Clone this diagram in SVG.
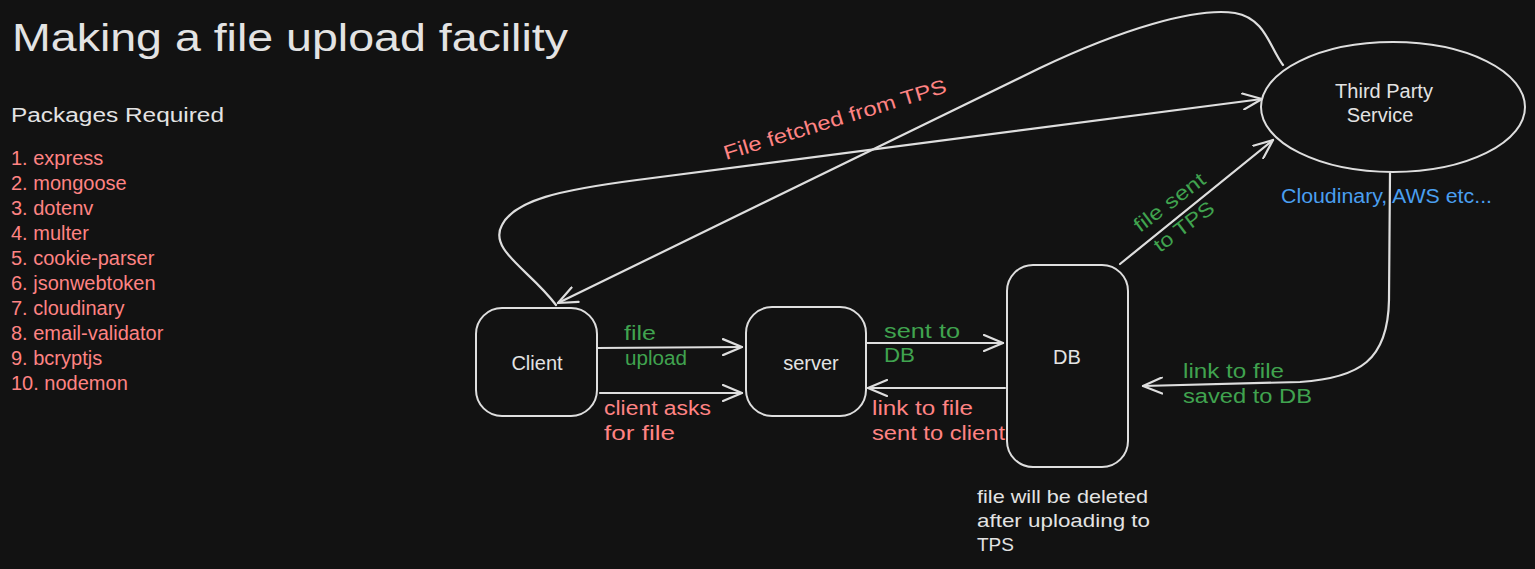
<svg xmlns="http://www.w3.org/2000/svg" width="1535" height="569" viewBox="0 0 1535 569">
<style>
text{font-family:"Liberation Sans","DejaVu Sans",sans-serif;font-size:20px;fill:#e3e3e3}
.r{fill:#ff8383}
.g{fill:#40a34f}
.b{fill:#4a9ff0}
.t{font-size:38px}
.s19{font-size:19px}
.node{fill:#121212;stroke:#dedede;stroke-width:2}
.c{fill:none;stroke:#dedede;stroke-width:2.2;stroke-linecap:round;stroke-linejoin:round}
</style>
<defs>
<marker id="ah" viewBox="0 0 22 18" refX="20" refY="9" markerWidth="22" markerHeight="18" markerUnits="userSpaceOnUse" orient="auto">
<path d="M1,1 L20,9 L1,17" fill="none" stroke="#dedede" stroke-width="2.2" stroke-linecap="round" stroke-linejoin="round"/>
</marker>
</defs>
<rect width="1535" height="569" fill="#121212"/>

<g id="title">
<text class="t" x="12" y="51" textLength="556" lengthAdjust="spacingAndGlyphs">Making a file upload facility</text>
</g>
<g id="packages">
<text x="11" y="122" textLength="213" lengthAdjust="spacingAndGlyphs">Packages Required</text>
<text class="r" x="11" y="165">1. express</text>
<text class="r" x="11" y="190">2. mongoose</text>
<text class="r" x="11" y="215">3. dotenv</text>
<text class="r" x="11" y="240">4. multer</text>
<text class="r" x="11" y="265">5. cookie-parser</text>
<text class="r" x="11" y="290">6. jsonwebtoken</text>
<text class="r" x="11" y="315">7. cloudinary</text>
<text class="r" x="11" y="340">8. email-validator</text>
<text class="r" x="11" y="365">9. bcryptjs</text>
<text class="r" x="11" y="390">10. nodemon</text>
</g>

<g id="connectors">
<path class="c" d="M597,348 L742,347" marker-end="url(#ah)"/>
<path class="c" d="M600,393 L742,393" marker-end="url(#ah)"/>
<path class="c" d="M866,343 L1003,343" marker-end="url(#ah)"/>
<path class="c" d="M1005,388 L868,388" marker-end="url(#ah)"/>
<path class="c" d="M1120,264 L1273,140" marker-end="url(#ah)"/>
<path class="c" d="M1390,173 L1389,300 C1388,360 1360,378 1300,382 L1143,386" marker-end="url(#ah)"/>
<path class="c" d="M556,305 C530,270 488,250 502,225 C515,200 560,190 637,180 L1262,99" marker-end="url(#ah)"/>
<path class="c" d="M1283,65 C1270,48 1265,18 1235,13 C1195,7 1120,30 1040,68 L558,303" marker-end="url(#ah)"/>
<text class="g" x="624" y="340" textLength="32" lengthAdjust="spacingAndGlyphs">file</text>
<text class="g" x="625" y="365" textLength="62" lengthAdjust="spacingAndGlyphs">upload</text>
<text class="r" x="604" y="415" textLength="107" lengthAdjust="spacingAndGlyphs">client asks</text>
<text class="r" x="604" y="440" textLength="71" lengthAdjust="spacingAndGlyphs">for file</text>
<text class="g" x="884" y="338" textLength="76" lengthAdjust="spacingAndGlyphs">sent to</text>
<text class="g" x="884" y="362" textLength="31" lengthAdjust="spacingAndGlyphs">DB</text>
<text class="r" x="872" y="415" textLength="101" lengthAdjust="spacingAndGlyphs">link to file</text>
<text class="r" x="872" y="440" textLength="133" lengthAdjust="spacingAndGlyphs">sent to client</text>
<text class="g" x="1183" y="378" textLength="101" lengthAdjust="spacingAndGlyphs">link to file</text>
<text class="g" x="1183" y="403" textLength="129" lengthAdjust="spacingAndGlyphs">saved to DB</text>
<text class="r" transform="translate(726,160) rotate(-17)" x="0" y="0" textLength="232" lengthAdjust="spacingAndGlyphs">File fetched from TPS</text>
<text class="g" transform="translate(1140,233) rotate(-37)" x="0" y="0" textLength="84" lengthAdjust="spacingAndGlyphs">file sent</text>
<text class="g" transform="translate(1160,253) rotate(-37)" x="0" y="0" textLength="70" lengthAdjust="spacingAndGlyphs">to TPS</text>
</g>

<g id="client">
<rect class="node" x="476" y="308" width="121" height="108" rx="26"/>
<text x="537" y="370" text-anchor="middle">Client</text>
</g>
<g id="server">
<rect class="node" x="746" y="307" width="120" height="109" rx="26"/>
<text x="811" y="370" text-anchor="middle">server</text>
</g>
<g id="db">
<rect class="node" x="1007" y="265" width="121" height="202" rx="26"/>
<text x="1067" y="364" text-anchor="middle">DB</text>
</g>
<g id="tps">
<ellipse class="node" cx="1393" cy="107" rx="132" ry="65"/>
<text x="1384" y="98" text-anchor="middle">Third Party</text>
<text x="1380" y="122" text-anchor="middle">Service</text>
</g>
<g id="notes">
<text class="b" x="1281" y="203" textLength="211" lengthAdjust="spacingAndGlyphs">Cloudinary, AWS etc...</text>
<text class="s19" x="977" y="503" textLength="171" lengthAdjust="spacingAndGlyphs">file will be deleted</text>
<text class="s19" x="977" y="527" textLength="173" lengthAdjust="spacingAndGlyphs">after uploading to</text>
<text class="s19" x="977" y="551">TPS</text>
</g>
</svg>
